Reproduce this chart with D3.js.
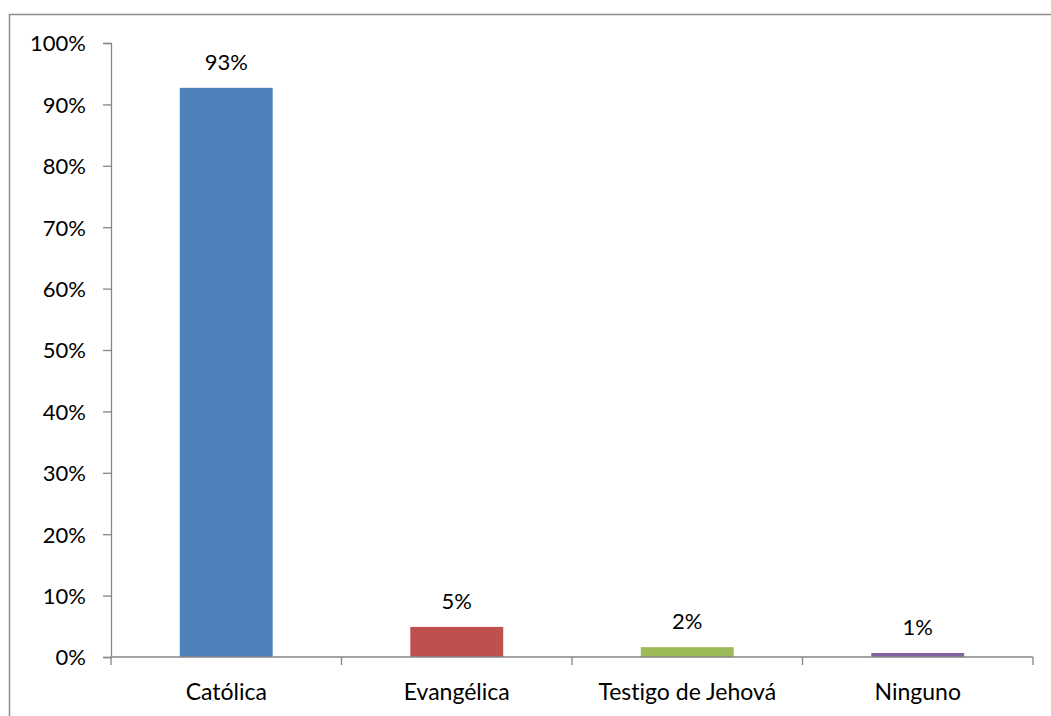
<!DOCTYPE html>
<html>
<head>
<meta charset="utf-8">
<script src="https://cdn.jsdelivr.net/npm/d3@7"></script>
<style>
  html, body { margin: 0; padding: 0; background: #fff; }
  svg { display: block; }
  text { font-family: Lato, "Open Sans", sans-serif; fill: #000; font-variant-ligatures: none; font-feature-settings: "liga" 0; }
</style>
</head>
<body>
<svg id="chart" width="1051" height="716"></svg>
<script>
const categories = ["Católica", "Evangélica", "Testigo de Jehová", "Ninguno"];
const values = [0.927, 0.049, 0.016, 0.0065];
const valueLabels = ["93%", "5%", "2%", "1%"];
const colors = ["#4F81BD", "#C0504D", "#9BBB59", "#8064A2"];
const yTicks = [0, 0.1, 0.2, 0.3, 0.4, 0.5, 0.6, 0.7, 0.8, 0.9, 1.0];

const svg = d3.select("#chart");
const W = 1051, H = 716;

// outer border (chart area frame, cut off at right/bottom)
svg.append("rect")
  .attr("x", 9.5).attr("y", 14.5)
  .attr("width", W).attr("height", H)
  .attr("fill", "none").attr("stroke", "#8c8c8c").attr("stroke-width", 1.5);

const plotLeft = 111, plotRight = 1033, plotTop = 43, plotBottom = 657;

const x = d3.scaleBand().domain(categories).range([plotLeft, plotRight]).padding(0);
const y = d3.scaleLinear().domain([0, 1]).range([plotBottom, plotTop]);
const barW = x.bandwidth() * 0.403;

// Y axis
const yAxis = d3.axisLeft(y).tickValues(yTicks).tickFormat(d3.format(".0%")).tickSize(8).tickPadding(17);
const gy = svg.append("g").attr("transform", `translate(${plotLeft},0)`).call(yAxis);
gy.select(".domain").attr("stroke", "#868686").attr("stroke-width", 1.3);
gy.selectAll(".tick line").attr("stroke", "#868686").attr("stroke-width", 1.3);
gy.selectAll(".tick text").style("font-size", "22px").attr("dy", "0.36em");

// Bars
svg.selectAll("rect.bar").data(categories).enter().append("rect")
  .attr("class", "bar")
  .attr("x", d => x(d) + (x.bandwidth() - barW) / 2)
  .attr("width", barW)
  .attr("y", (d, i) => y(values[i]))
  .attr("height", (d, i) => plotBottom - y(values[i]))
  .attr("fill", (d, i) => colors[i]);

// X axis
const gx = svg.append("g").attr("transform", `translate(0,${plotBottom})`);
gx.append("line").attr("x1", plotLeft).attr("x2", plotRight).attr("y1", 0).attr("y2", 0)
  .attr("stroke", "#868686").attr("stroke-width", 1.3);
const boundaries = categories.map(c => x(c)).concat([plotRight]);
gx.selectAll("line.tk").data(boundaries).enter().append("line")
  .attr("class", "tk")
  .attr("x1", d => d).attr("x2", d => d).attr("y1", 0).attr("y2", 8)
  .attr("stroke", "#868686").attr("stroke-width", 1.3);
gx.selectAll("text").data(categories).enter().append("text")
  .attr("x", d => x(d) + x.bandwidth() / 2)
  .attr("y", 43)
  .attr("text-anchor", "middle")
  .style("font-size", "23px")
  .text(d => d);

// Value labels
svg.selectAll("text.val").data(categories).enter().append("text")
  .attr("class", "val")
  .attr("x", d => x(d) + x.bandwidth() / 2)
  .attr("y", (d, i) => y(values[i]) - 18)
  .attr("text-anchor", "middle")
  .style("font-size", "22px")
  .text((d, i) => valueLabels[i]);
</script>
</body>
</html>
